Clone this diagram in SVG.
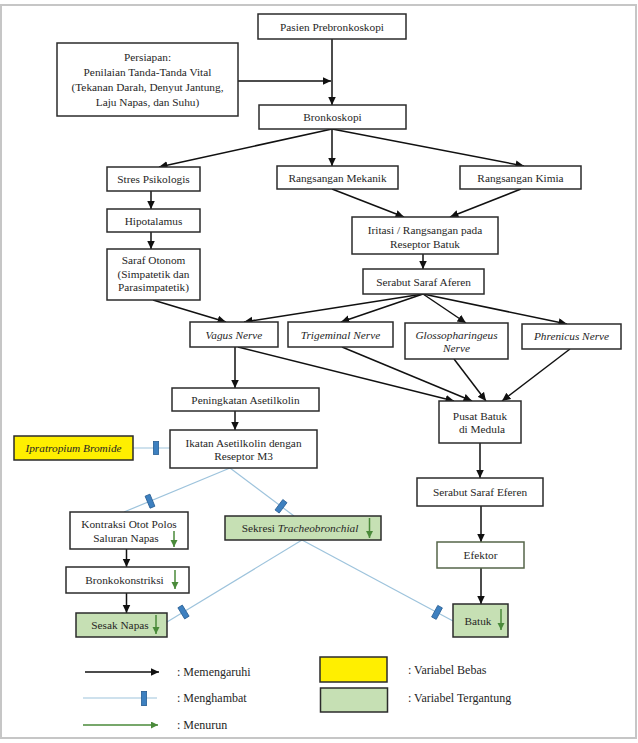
<svg xmlns="http://www.w3.org/2000/svg" width="638" height="743" viewBox="0 0 638 743" font-family="'Liberation Serif', 'DejaVu Serif', serif">
<style>
text{font-family:'Liberation Serif','DejaVu Serif',serif;font-size:11.3px;fill:#262626;text-anchor:middle}
.lg{text-anchor:start;font-size:12px}
.it{font-style:italic}
.box{fill:#fff;stroke:#2b2b2b;stroke-width:1.5}
.grn{fill:#c6e0b4}
.yel{fill:#ffef00}
.c{fill:none;stroke:#111;stroke-width:1.5;marker-end:url(#ah)}
.inh{fill:none;stroke:#9dc3dc;stroke-width:1.2}
.ga{fill:none;stroke:#4a8a3a;stroke-width:1.5;marker-end:url(#gh)}
</style>
<defs>
<marker id="ah" markerUnits="userSpaceOnUse" markerWidth="10" markerHeight="9" refX="8.5" refY="4" orient="auto"><path d="M0,0 L8.5,4 L0,8 z" fill="#111"/></marker>
<marker id="gh" markerUnits="userSpaceOnUse" markerWidth="9" markerHeight="8" refX="7" refY="3.5" orient="auto"><path d="M0,0 L7,3.5 L0,7 z" fill="#4a8a3a"/></marker>
<rect id="blk" x="-2.6" y="-6.5" width="5.2" height="13" fill="#3d80c0" stroke="#2a5f94" stroke-width="0.8"/>
</defs>
<rect x="1" y="5" width="635" height="733" fill="#fff" stroke="#c6c6c6" stroke-width="2"/>

<g id="connectors">
<path class="c" d="M332,39 V105"/>
<path class="c" d="M238,81 H331"/>
<path class="c" d="M332,129 L159,167"/>
<path class="c" d="M332,129 V166"/>
<path class="c" d="M332,129 L524,166"/>
<path class="c" d="M151,191 V209"/>
<path class="c" d="M151,232 V249"/>
<path class="c" d="M332,189 L404,217"/>
<path class="c" d="M521,189 L450,217"/>
<path class="c" d="M423,254 V269"/>
<path class="c" d="M153,300 L226,322"/>
<path class="c" d="M423,294 L244,322"/>
<path class="c" d="M423,294 L341,322"/>
<path class="c" d="M423,294 L466,323"/>
<path class="c" d="M423,294 L567,324"/>
<path class="c" d="M235,347 V388"/>
<path class="c" d="M235,411 V430"/>
<path class="c" d="M238,347 L454,401"/>
<path class="c" d="M342,347 L472,401"/>
<path class="c" d="M454,359 L486,401"/>
<path class="c" d="M570,349 L502,401"/>
<path class="c" d="M480,443 V478"/>
<path class="c" d="M481,506 V542"/>
<path class="c" d="M481,568 V604"/>
<path class="c" d="M126.5,549 V567"/>
<path class="c" d="M126.5,593 V613"/>
<path class="inh" d="M133,448 H170"/>
<use href="#blk" transform="translate(156,448)"/>
<path class="inh" d="M230,468 L124,512"/>
<use href="#blk" transform="translate(150,501.2) rotate(-22.5)"/>
<path class="inh" d="M230,468 L294,516"/>
<use href="#blk" transform="translate(281,506.3) rotate(36.9)"/>
<path class="inh" d="M302,540 L167,622"/>
<use href="#blk" transform="translate(183.5,612) rotate(-31.3)"/>
<path class="inh" d="M302,540 L453,621"/>
<use href="#blk" transform="translate(437,612.4) rotate(28.2)"/>
</g>

<g id="pasien"><rect class="box" x="258" y="14" width="148" height="25"/><text x="332" y="30.5">Pasien Prebronkoskopi</text></g>
<g id="persiapan"><rect class="box" x="57" y="43" width="181" height="73"/>
<text x="147.5" y="61">Persiapan:</text><text x="147.5" y="76">Penilaian Tanda-Tanda Vital</text><text x="147.5" y="91">(Tekanan Darah, Denyut Jantung,</text><text x="147.5" y="106">Laju Napas, dan Suhu)</text></g>
<g id="bronkoskopi"><rect class="box" x="259" y="105" width="147" height="24"/><text x="332.5" y="121">Bronkoskopi</text></g>
<g id="stres"><rect class="box" x="107" y="167" width="93" height="24"/><text x="153.5" y="183">Stres Psikologis</text></g>
<g id="mekanik"><rect class="box" x="277" y="166" width="121" height="23"/><text x="337.5" y="181.5">Rangsangan Mekanik</text></g>
<g id="kimia"><rect class="box" x="460" y="166" width="121" height="23"/><text x="520.5" y="181.5">Rangsangan Kimia</text></g>
<g id="hipotalamus"><rect class="box" x="107" y="209" width="93" height="23"/><text x="153.5" y="224.5">Hipotalamus</text></g>
<g id="otonom"><rect class="box" x="107" y="249" width="93" height="51"/><text x="153.5" y="264">Saraf Otonom</text><text x="153.5" y="278">(Simpatetik dan</text><text x="153.5" y="291">Parasimpatetik)</text></g>
<g id="iritasi"><rect class="box" x="352" y="217" width="146" height="37"/><text x="425" y="234">Iritasi / Rangsangan pada</text><text x="425" y="248">Reseptor Batuk</text></g>
<g id="aferen"><rect class="box" x="363" y="269" width="121" height="25"/><text x="423.5" y="285.5">Serabut Saraf Aferen</text></g>
<g id="vagus"><rect class="box" x="190" y="322" width="88" height="25"/><text class="it" x="234" y="339">Vagus Nerve</text></g>
<g id="trigeminal"><rect class="box" x="288" y="322" width="105" height="25"/><text class="it" x="340.5" y="339">Trigeminal Nerve</text></g>
<g id="glosso"><rect class="box" x="405" y="323" width="103" height="36"/><text class="it" x="456.5" y="338.5">Glossopharingeus</text><text class="it" x="456.5" y="351.5">Nerve</text></g>
<g id="phrenicus"><rect class="box" x="522" y="324" width="99" height="25"/><text class="it" x="571.5" y="340">Phrenicus Nerve</text></g>
<g id="peningkatan"><rect class="box" x="172" y="388" width="147" height="23"/><text x="245.5" y="404">Peningkatan Asetilkolin</text></g>
<g id="ikatan"><rect class="box" x="170" y="430" width="147" height="38"/><text x="243.5" y="446.5">Ikatan Asetilkolin dengan</text><text x="243.5" y="459.5">Reseptor M3</text></g>
<g id="ipratropium"><rect class="box yel" x="14" y="436" width="119" height="24"/><text class="it" x="73.5" y="451.5">Ipratropium Bromide</text></g>
<g id="pusat"><rect class="box" x="439" y="401" width="82" height="42"/><text x="480" y="419.5">Pusat Batuk</text><text x="482" y="432.5">di Medula</text></g>
<g id="eferen"><rect class="box" x="417" y="478" width="126" height="28"/><text x="480" y="496">Serabut Saraf Eferen</text></g>
<g id="efektor"><rect class="box" x="437" y="542" width="87" height="26" style="stroke:#55654a"/><text x="480.5" y="559">Efektor</text></g>
<g id="batuk"><rect class="box grn" x="453" y="604" width="55" height="33"/><text x="478" y="625">Batuk</text><path class="ga" d="M501,609 V630"/></g>
<g id="kontraksi"><rect class="box" x="70" y="512" width="118" height="37"/><text x="129" y="528">Kontraksi Otot Polos</text><text x="126" y="541.5">Saluran Napas</text><path class="ga" d="M174,531 V547"/></g>
<g id="bronkokonstriksi"><rect class="box" x="66" y="567" width="123" height="26"/><text x="124.5" y="584">Bronkokonstriksi</text><path class="ga" d="M175,570 V589"/></g>
<g id="sesak"><rect class="box grn" x="76" y="613" width="91" height="24"/><text x="120" y="629">Sesak Napas</text><path class="ga" d="M156,615 V634"/></g>
<g id="sekresi"><rect class="box grn" x="225" y="516" width="156" height="24"/><text x="300" y="532">Sekresi <tspan class="it">Tracheobronchial</tspan></text><path class="ga" d="M369.5,518 V538"/></g>

<g id="legend">
<path class="c" d="M85,672 H159"/>
<text class="lg" x="177" y="676">: Memengaruhi</text>
<path class="inh" d="M83,698 H157"/>
<use href="#blk" transform="translate(144,698.5) scale(1,1.08)"/>
<text class="lg" x="177" y="702">: Menghambat</text>
<path class="ga" d="M83,725 H158"/>
<text class="lg" x="177" y="729">: Menurun</text>
<rect class="box yel" x="320" y="657" width="67" height="25"/>
<text class="lg" x="408" y="674">: Variabel Bebas</text>
<rect class="box grn" x="320.5" y="688" width="67" height="24"/>
<text class="lg" x="408" y="702">: Variabel Tergantung</text>
</g>
</svg>
